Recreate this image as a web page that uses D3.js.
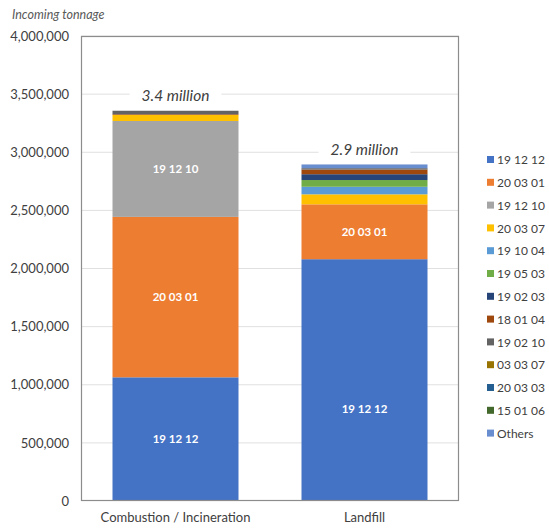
<!DOCTYPE html>
<html><head><meta charset="utf-8">
<script src="https://cdn.jsdelivr.net/npm/d3@7"></script>
<style>body{margin:0;background:#fff}svg{display:block}</style>
</head><body>
<script>
const categories = ["Combustion / Incineration", "Landfill"];
const seriesKeys = ["19 12 12","20 03 01","19 12 10","20 03 07","19 10 04","19 05 03","19 02 03","18 01 04","19 02 10","03 03 07","20 03 03","15 01 06","Others"];
const seriesColors = ["#4472C4","#ED7D31","#A5A5A5","#FFC000","#5B9BD5","#70AD47","#264478","#9E480E","#636363","#997300","#255E91","#43682B","#698ED0"];
const combustionValues = [1064000,1380000,825000,52000,0,0,0,6000,30000,0,0,0,0];
const landfillValues   = [2080000,472000,0,86000,65000,58000,50000,40000,12000,0,0,0,32000];
const totalLabels = ["3.4 million","2.9 million"];
const labelledKeys = ["19 12 12","20 03 01","19 12 10"];
// vertical position of each segment label within its segment (0 = bottom, 1 = top), per category
const labelFractions = {"19 12 12":[0.5,0.38],"20 03 01":[0.5,0.5],"19 12 10":[0.5,0.5]};
const yTicks = [0,500000,1000000,1500000,2000000,2500000,3000000,3500000,4000000];

const W = 549, H = 529;
const m = {left:81, right:90, top:36, bottom:28};
const svg = d3.select("body").append("svg").attr("width",W).attr("height",H);
const font = "Lato, 'Open Sans', sans-serif";

const rows = categories.map((c,i)=>{
  const o = {cat:c};
  const vals = i===0 ? combustionValues : landfillValues;
  seriesKeys.forEach((k,j)=>o[k]=vals[j]);
  return o;
});

const x = d3.scaleBand().domain(categories).range([m.left, W-m.right]).paddingInner(1/3).paddingOuter(1/6);
const y = d3.scaleLinear().domain([0,4000000]).range([H-m.bottom, m.top]);

// gridlines
svg.append("g").selectAll("line").data(yTicks.slice(1)).join("line")
  .attr("x1",m.left).attr("x2",W-m.right)
  .attr("y1",d=>y(d)).attr("y2",d=>y(d))
  .attr("stroke","#e0e0e0").attr("stroke-width",1);

// y axis labels
const yAxis = d3.axisLeft(y).tickValues(yTicks).tickFormat(d3.format(",")).tickSize(0).tickPadding(12);
const ga = svg.append("g").attr("transform",`translate(${m.left},0)`).call(yAxis);
ga.select(".domain").remove();
ga.selectAll("text").attr("font-family",font).attr("font-size",13).attr("fill","#404040");

// stacks
const stack = d3.stack().keys(seriesKeys)(rows);
const color = d3.scaleOrdinal().domain(seriesKeys).range(seriesColors);
svg.append("g").selectAll("g").data(stack).join("g").attr("fill",d=>color(d.key))
  .selectAll("rect").data(d=>d).join("rect")
  .attr("x",d=>x(d.data.cat)).attr("width",x.bandwidth())
  .attr("y",d=>y(d[1])).attr("height",d=>Math.max(0,y(d[0])-y(d[1])));

// segment labels
stack.filter(s=>labelledKeys.includes(s.key)).forEach(s=>{
  s.forEach((d,i)=>{
    if (d[1]-d[0] <= 0) return;
    const f = labelFractions[s.key][i];
    svg.append("text").attr("x",x(d.data.cat)+x.bandwidth()/2).attr("y",y(d[0]+(d[1]-d[0])*f))
      .attr("dy","0.35em").attr("text-anchor","middle")
      .attr("font-family",font).attr("font-size",11.5).attr("font-weight","bold").attr("fill","#fff")
      .text(s.key);
  });
});

// frame
svg.append("rect").attr("x",m.left+0.5).attr("y",m.top+0.5).attr("width",W-m.right-m.left-1).attr("height",H-m.bottom-m.top-1)
  .attr("fill","none").attr("stroke","#8c8c8c").attr("stroke-width",1.2);

// totals
const last = stack[stack.length-1];
const tg = svg.append("g");
last.forEach((d,i)=>{
  const cx = x(d.data.cat)+x.bandwidth()/2, cy = y(d[1]) - 15;
  const bg = tg.append("rect").attr("fill","#fff");
  const t = tg.append("text").attr("x",cx).attr("y",cy).attr("dy","0.35em").attr("text-anchor","middle")
    .attr("font-family",font).attr("font-size",15.5).attr("font-style","italic").attr("fill","#404040")
    .text(totalLabels[i]);
  const bb = t.node().getBBox();
  bg.attr("x",bb.x-12).attr("y",bb.y-1).attr("width",bb.width+24).attr("height",bb.height+2);
});

// x labels
svg.append("g").selectAll("text").data(categories).join("text")
  .attr("x",d=>x(d)+x.bandwidth()/2).attr("y",H-7).attr("text-anchor","middle")
  .attr("font-family",font).attr("font-size",13).attr("fill","#404040").text(d=>d);

// y title
svg.append("text").attr("x",12).attr("y",19).attr("font-family",font).attr("font-size",12.5)
  .attr("font-style","italic").attr("fill","#595959").text("Incoming tonnage");

// legend
const lg = svg.append("g").attr("transform","translate(487,160)");
seriesKeys.forEach((k,i)=>{
  const g = lg.append("g").attr("transform",`translate(0,${i*22.8})`);
  g.append("rect").attr("x",0).attr("y",-4).attr("width",7).attr("height",7).attr("fill",color(k));
  g.append("text").attr("x",10).attr("y",0).attr("dy","0.35em").attr("font-family",font).attr("font-size",12)
    .attr("fill","#404040").text(k);
});
</script>
</body></html>
